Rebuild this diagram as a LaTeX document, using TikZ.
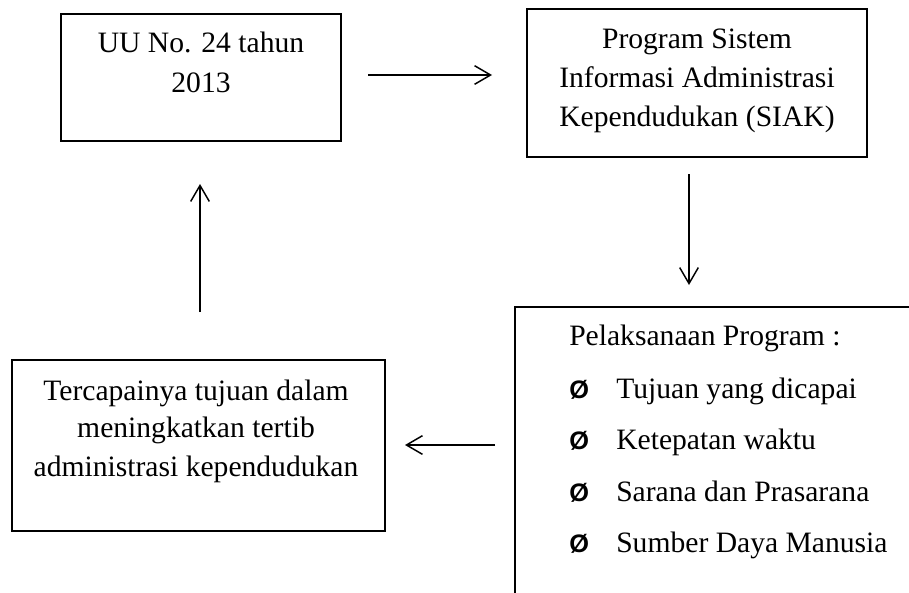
\documentclass[tikz,border=0pt]{standalone}
\usepackage{fontspec}
\setmainfont{Liberation Serif}
\newfontfamily\bulletfont{Liberation Sans}
\usetikzlibrary{arrows.meta}
\begin{document}
\begin{tikzpicture}[x=0.75pt,y=-0.75pt,
  box/.style={draw, line width=1.5pt, inner sep=0pt, outer sep=0pt, rectangle},
  txt/.style={anchor=base, inner sep=0pt, font=\fontsize{22.2}{28.9}\selectfont},
  ltxt/.style={anchor=base west, inner sep=0pt, font=\fontsize{22.2}{28.9}\selectfont},
  bul/.style={anchor=base west, inner sep=0pt, font=\fontsize{19}{22}\bulletfont\bfseries\selectfont},
  arr/.style={line width=1.1pt, -{Straight Barb[length=12pt,width=14pt]}}]
\useasboundingbox (0,0) rectangle (909,592);
\clip (0,0) rectangle (909,592);

% boxes
\node[box, minimum width=210pt, minimum height=95.25pt] (b1) at (201,77.5) {};
\node[box, minimum width=255pt, minimum height=111pt] (b2) at (697,83) {};
\node[box, minimum width=315pt, minimum height=234.75pt] (b3) at (725,463.5) {};
\node[box, minimum width=279.75pt, minimum height=128.25pt] (b4) at (198.5,445.5) {};

% box 1 text
\node[txt] (t1a) at (201,53) {UU No. 24 tahun};
\node[txt] (t1b) at (201,92) {2013};

% box 2 text
\node[txt] (t2a) at (697,49) {Program Sistem};
\node[txt] (t2b) at (697,87) {Informasi Administrasi};
\node[txt] (t2c) at (697,126) {Kependudukan (SIAK)};

% box 3 text
\node[ltxt] (t3h) at (569,345) {Pelaksanaan Program :};
\node[bul] (p1) at (569,398) {Ø};
\node[ltxt] (l1) at (616,398) {Tujuan yang dicapai};
\node[bul] (p2) at (569,449.5) {Ø};
\node[ltxt] (l2) at (616,449.5) {Ketepatan waktu};
\node[bul] (p3) at (569,501) {Ø};
\node[ltxt] (l3) at (616,501) {Sarana dan Prasarana};
\node[bul] (p4) at (569,552.5) {Ø};
\node[ltxt] (l4) at (616,552.5) {Sumber Daya Manusia};

% box 4 text
\node[txt] (t4a) at (196,400) {Tercapainya tujuan dalam};
\node[txt] (t4b) at (196,437) {meningkatkan tertib};
\node[txt] (t4c) at (196,476) {administrasi kependudukan};

% arrow ends
\coordinate (a1s) at (368,75);
\coordinate (a1e) at (492,75);
\coordinate (a2s) at (689,174);
\coordinate (a2e) at (689,285);
\coordinate (a3s) at (495,445);
\coordinate (a3e) at (405,445);
\coordinate (a4s) at (200,312);
\coordinate (a4e) at (200,184);

\draw[arr] (a1s) -- (a1e);
\draw[arr] (a2s) -- (a2e);
\draw[arr] (a3s) -- (a3e);
\draw[arr] (a4s) -- (a4e);
\end{tikzpicture}
\end{document}
